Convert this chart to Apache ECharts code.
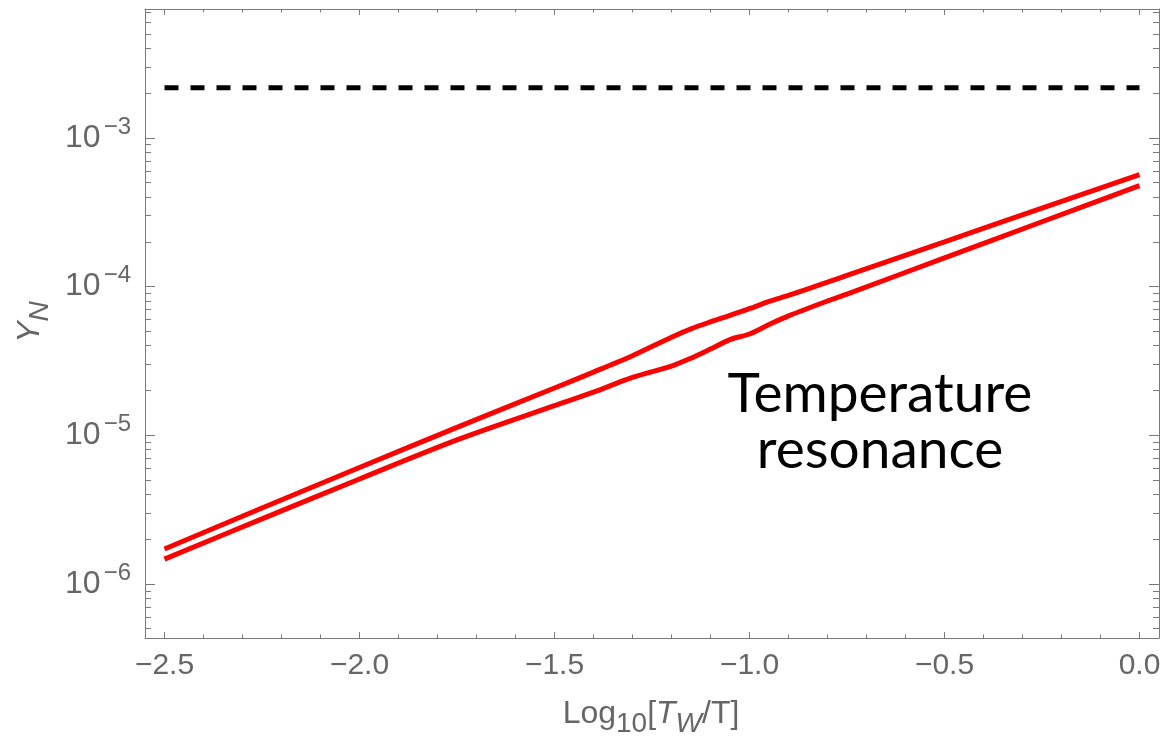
<!DOCTYPE html>
<html>
<head>
<meta charset="utf-8">
<title>Y_N vs Log10[T_W/T]</title>
<script src="https://cdn.jsdelivr.net/npm/echarts@6/dist/echarts.min.js"></script>
<style>
  html, body { margin: 0; padding: 0; background: #fff; }
  #chart { width: 1165px; height: 741px; }
</style>
</head>
<body>
<div id="chart"></div>
<script>
// Horizontal positions (Log10[T_W/T]) shared by both red curves
const xValues = [-2.5, -2.25, -2.0, -1.75, -1.5, -1.4, -1.3, -1.2, -1.15, -1.1, -1.05, -1.0, -0.95, -0.9, -0.8, -0.75, -0.5, -0.25, 0.0];

// Upper red curve Y_N
const yUpper = [1.72e-6, 3.24e-6, 6.07e-6, 1.13e-5, 2.08e-5, 2.66e-5, 3.43e-5, 4.56e-5, 5.2e-5, 5.79e-5, 6.4e-5, 7.1e-5, 7.94e-5, 8.73e-5, 1.07e-4, 1.19e-4, 2.0e-4, 3.37e-4, 5.66e-4];

// Lower red curve Y_N
const yLower = [1.47e-6, 2.74e-6, 5.08e-6, 9.3e-6, 1.58e-5, 1.95e-5, 2.45e-5, 2.92e-5, 3.3e-5, 3.8e-5, 4.4e-5, 4.8e-5, 5.55e-5, 6.35e-5, 8.0e-5, 8.9e-5, 1.56e-4, 2.73e-4, 4.78e-4];

// Horizontal dashed reference level
const dashedX = [-2.5, 0.0];
const dashedY = [2.17e-3, 2.17e-3];

// Tick positions
const xTicksMajor = [-2.5, -2.0, -1.5, -1.0, -0.5, 0.0];
const xTicksMinor = [-2.4, -2.3, -2.2, -2.1, -1.9, -1.8, -1.7, -1.6, -1.4, -1.3, -1.2, -1.1, -0.9, -0.8, -0.7, -0.6, -0.4, -0.3, -0.2, -0.1];
const yTicksMajor = [1e-6, 1e-5, 1e-4, 1e-3];
const yTicksMinor = [
  5e-7, 6e-7, 7e-7, 8e-7, 9e-7,
  2e-6, 3e-6, 4e-6, 5e-6, 6e-6, 7e-6, 8e-6, 9e-6,
  2e-5, 3e-5, 4e-5, 5e-5, 6e-5, 7e-5, 8e-5, 9e-5,
  2e-4, 3e-4, 4e-4, 5e-4, 6e-4, 7e-4, 8e-4, 9e-4,
  2e-3, 3e-3, 4e-3, 5e-3, 6e-3, 7e-3
];

// Axis ranges
const X_MIN = -2.55, X_MAX = 0.05;
const Y_MIN = 4.33e-7, Y_MAX = 7.36e-3;

const FRAME = '#7a7a7a';
const LABEL = '#666666';
const TICK_FONT = 'Liberation Sans, Arial, sans-serif';

// The vertical axis is a decade (log10) scale: values are mapped with log10
const lg = v => Math.log10(v);

function pairs(xs, ys) {
  return xs.map((x, i) => [x, lg(ys[i])]);
}

function xAxisDef(position, ticks, len, withLabels, withLine) {
  return {
    type: 'value', position: position, min: X_MIN, max: X_MAX,
    axisLine: { show: withLine, onZero: false, lineStyle: { color: FRAME, width: 1 } },
    axisTick: { show: true, inside: true, length: len, customValues: ticks, lineStyle: { color: FRAME, width: 1 } },
    axisLabel: {
      show: withLabels, customValues: ticks, margin: 13,
      fontFamily: TICK_FONT, fontSize: 30, color: LABEL,
      formatter: v => (v < 0 ? '\u2212' : '') + Math.abs(v).toFixed(1)
    },
    splitLine: { show: false }, minorTick: { show: false }
  };
}

function yAxisDef(position, ticks, len, withLabels, withLine) {
  const logTicks = ticks.map(lg);
  return {
    type: 'value', position: position, min: lg(Y_MIN), max: lg(Y_MAX),
    axisLine: { show: withLine, onZero: false, lineStyle: { color: FRAME, width: 1 } },
    axisTick: { show: true, inside: true, length: len, customValues: logTicks, lineStyle: { color: FRAME, width: 1 } },
    axisLabel: {
      show: withLabels, customValues: logTicks, margin: 14,
      formatter: v => '{b|10}{s|\u2212' + (-Math.round(v)) + '}',
      rich: {
        b: { fontFamily: TICK_FONT, fontSize: 32, color: LABEL, lineHeight: 32, verticalAlign: 'bottom' },
        s: { fontFamily: TICK_FONT, fontSize: 24, color: LABEL, lineHeight: 24, padding: [0, 0, 15, 3], verticalAlign: 'bottom' }
      }
    },
    splitLine: { show: false }, minorTick: { show: false }
  };
}

const titleRich = {
  n: { fontFamily: TICK_FONT, fontSize: 32, fill: LABEL, lineHeight: 36, verticalAlign: 'top' },
  sub: { fontFamily: TICK_FONT, fontSize: 28, fill: LABEL, lineHeight: 28, padding: [12, 0, 0, 0], verticalAlign: 'top' },
  i: { fontFamily: TICK_FONT, fontStyle: 'italic', fontSize: 32, fill: LABEL, lineHeight: 36, verticalAlign: 'top' },
  isub: { fontFamily: TICK_FONT, fontStyle: 'italic', fontSize: 28, fill: LABEL, lineHeight: 28, padding: [12, 0, 0, 0], verticalAlign: 'top' }
};

const chart = echarts.init(document.getElementById('chart'), null, { renderer: 'canvas' });

chart.setOption({
  animation: false,
  backgroundColor: '#ffffff',
  grid: { left: 145, top: 9, width: 1014, height: 629, containLabel: false, outerBoundsMode: 'none' },
  xAxis: [
    xAxisDef('bottom', xTicksMajor, 6, true, true),
    xAxisDef('bottom', xTicksMinor, 3.5, false, false),
    xAxisDef('top', xTicksMajor, 6, false, true),
    xAxisDef('top', xTicksMinor, 3.5, false, false)
  ],
  yAxis: [
    yAxisDef('left', yTicksMajor, 10, true, true),
    yAxisDef('left', yTicksMinor, 6, false, false),
    yAxisDef('right', yTicksMajor, 10, false, true),
    yAxisDef('right', yTicksMinor, 6, false, false)
  ],
  series: [
    {
      name: 'upper', type: 'line', xAxisIndex: 0, yAxisIndex: 0,
      data: pairs(xValues, yUpper), smooth: 0.3, showSymbol: false,
      lineStyle: { color: '#ff0000', width: 5 }
    },
    {
      name: 'lower', type: 'line', xAxisIndex: 0, yAxisIndex: 0,
      data: pairs(xValues, yLower), smooth: 0.3, showSymbol: false,
      lineStyle: { color: '#ff0000', width: 5 }
    },
    {
      name: 'reference', type: 'line', xAxisIndex: 0, yAxisIndex: 0,
      data: pairs(dashedX, dashedY), showSymbol: false,
      lineStyle: { color: '#000000', width: 5, type: [14, 12] }
    }
  ],
  graphic: [
    {
      type: 'text', x: 651, y: 698,
      style: {
        text: '{n|Log}{sub|10}{n|[}{i|T}{isub|W}{n|/T]}',
        align: 'center', verticalAlign: 'top',
        rich: titleRich
      }
    },
    {
      type: 'text', x: 32, y: 322, rotation: Math.PI / 2,
      style: {
        text: '{i|Y}{isub|N}',
        align: 'center', verticalAlign: 'middle',
        rich: titleRich
      }
    },
    {
      type: 'text', x: 880, y: 366,
      style: {
        text: 'Temperature\nresonance',
        align: 'center', verticalAlign: 'top',
        fontFamily: 'Lato, sans-serif', fontSize: 55, lineHeight: 56, fill: '#000000'
      }
    }
  ]
});
</script>
</body>
</html>
